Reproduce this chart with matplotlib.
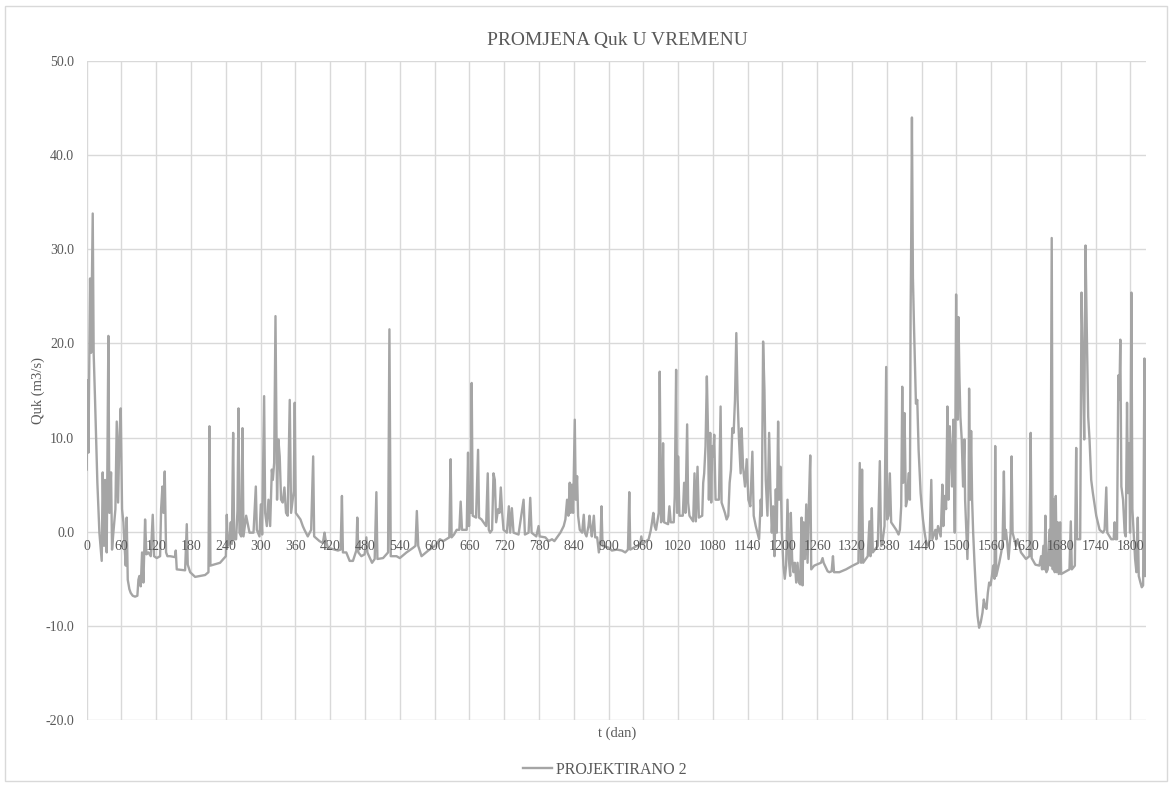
import numpy as np
import matplotlib.pyplot as plt
from matplotlib.patches import Rectangle

plt.rcParams['font.family'] = ['Liberation Serif', 'DejaVu Serif']

# ===== Podaci (očitano s grafa): dan i Quk (m3/s), po segmentima =====
days_a = [0, 1.5, 3, 5.8, 7.5, 10.4, 12, 14.4, 18.4, 21.9, 25.9, 27.6, 29.9, 31.6, 34.5, 37.4, 39.1, 42, 43.7, 46,
          49.5, 51.8, 54.1, 56.4, 58.7, 61, 63.3, 65, 67.3, 69, 70.8, 73.6, 75.9, 79.4, 83.4, 87.4, 89.2, 90.9, 93.2,
          95.5, 97.8, 100.7, 103, 106.4, 110.5, 113.9, 116.2, 120.8, 126.6, 128.3, 130.6, 132.3, 134.6, 136.9, 139.2,
          143.8, 152.5, 153.6, 155.3, 169.7, 172.6, 174.3, 178.4, 187, 204.2, 210, 211.7, 213.4, 230, 240, 241.6,
          243.3, 246.2, 248.5, 250.3, 252.6, 254.3, 257.7, 260, 261.8, 263.5, 266.4, 268.7, 270.4, 275, 277.3, 280.8,
          287.7, 291.7, 293.4, 298, 300.3, 302.6, 306, 307.8, 310.7, 313.5, 316.4, 319.3, 321, 323.3, 325.6, 328.3,
          330.6]
q_a = [6.6, 16.1, 8.4, 26.9, 19.0, 33.8, 19.0, 14.0, 5.2, -0.1, -3.1, 6.3, -1.5, 5.5, -2.2, 20.8, 2.0, 6.3, -1.9, -0.1,
       2.4, 11.7, 3.1, 10.1, 13.1, 2.4, 1.0, -1.2, -3.6, 1.5, -5.1, -6.1, -6.5, -6.8, -6.9, -6.8, -5.1, -4.7, -5.8,
       -2.2, -5.4, 1.3, -2.4, -2.2, -2.6, 1.8, -2.6, -2.8, -2.6, 2.4, 4.8, 2.0, 6.4, -2.2, -2.6,
       -2.6, -2.7, -2.0, -4.0, -4.1, 0.8, -3.5, -4.3, -4.8, -4.6, -4.3, 11.2, -3.6, -3.3, -2.6, 1.8,
       -1.5, -0.8, 1.0, -1.3, 10.5, -0.8, -0.8, 2.2, 13.1, -0.1, -0.5, 11.0, -0.5, 1.7, 1.0, -0.1,
       -0.1, 4.8, 0.2, -0.5, 2.9, -0.3, 14.4, 2.0, 0.6, 3.4, 0.6, 6.6, 5.5, 7.3, 22.9, 3.4,
       9.8]

days_b = [332.9, 335.2, 338.1, 341, 343.8, 346.7, 350.2, 352.5, 355.4, 357.1, 358.8, 360.6, 364, 368.7, 372.7, 375.6,
          381.3, 387.1, 390.6, 392.3, 401.5, 407.3, 410.2, 411.9, 416, 427.5, 433.3, 437.9, 440.2, 441.9, 447.7,
          453.5, 459.2, 465, 466.7, 468.5, 473.7, 479.4, 482.3, 484.1, 492.1, 496.7, 499.6, 501.4, 511.2, 519.8,
          522.1, 524.4, 534.3, 540, 551.6, 563.1, 567.1, 569.4, 571.8, 577.5, 589.1, 600.6]
q_b = [8.0, 3.4, 3.1, 4.7, 2.0, 1.7, 14.0, 2.0, 3.4, 4.3, 13.7, 2.0, 1.7, 1.3, 0.6, 0.2,
       -0.5, 0.2, 8.0, -0.5, -1.0, -1.2, -0.1, -0.8, -1.7, -1.9, -2.0, -1.9, 3.8, -2.2, -2.2,
       -3.1, -3.1, -2.0, 1.5, -2.2, -2.6, -2.4, -0.6, -2.2, -3.3, -2.9, 4.2, -2.9, -2.8, -2.2,
       21.5, -2.6, -2.6, -2.8, -2.2, -1.7, -1.5, 2.2, -1.5, -2.6, -2.0, -1.5]

days_c = [609.2, 615, 625.4, 627.7, 629.4, 633.5, 638.1, 642.7, 645, 647.3, 655.4, 657.7, 659.4, 661.2, 662.3, 664,
          665.8, 671.5, 675, 676.7, 681, 688.9, 691.7, 693.5, 695.8, 699.2, 701.6, 703.9, 706.2, 709.6, 711.9, 714.2,
          716.6, 718.9, 724.7, 728.1, 730.4, 733.3, 736.2, 744.8, 750.6, 753.5, 755.8, 762.1, 765, 767.3, 775.4,
          779.4, 781.2, 791, 796.8, 802.5, 806.6, 811.2, 817, 822.7, 825.6, 828.5, 830.8, 833.1, 834.8, 836.6, 838.9,
          841.8, 843.5, 845.8, 847.5, 850.4, 854.5, 857.3, 859.1, 862, 865.4, 867.2, 868.9, 871.2, 874.7, 877,
          880.4, 883.3, 886.2, 887.9, 889.7, 900.6]
q_c = [-0.8, -1.0, -0.6, 7.7, -0.6, -0.3, 0.2, 0.2, 3.2, 0.2, 0.2, 8.4, 0.6, 4.8, 2.0, 15.8,
       1.7, 1.5, 8.7, 1.5, 1.3, 0.6, 6.2, 0.2, -0.1, 0.2, 6.2, 5.5, 1.0, 2.4, 2.0, 4.7,
       2.0, 0.2, -0.1, 2.7, -0.1, 2.5, -0.1, -0.3, 2.2, 3.4, -0.3, -0.1, 3.6, -0.1, -0.5,
       0.6, -0.5, -0.6, -1.0, -0.8, -1.0, -0.6, -0.1, 0.6, 1.3, 3.4, 1.7, 5.2, 2.0, 5.0, 2.0,
       11.9, 3.4, 5.9, 1.7, 0.2, -0.1, 1.8, -0.1, -0.5, 0.6, 1.7, 0.6, -0.5, 1.7, -0.6,
       -0.6, -2.2, -0.8, 2.7, -1.5, -1.7]

days_d = [905.8, 914.4, 923.1, 928.9, 933.5, 935.8, 937.5, 949, 954.8, 956.5, 958.9, 969.2, 972.7, 975, 977.3, 979.6,
          981.9, 984.8, 986.6, 988.3, 990.6, 992.3, 994.1, 995.8, 1002.7, 1005, 1007.3, 1012.5, 1014.2, 1016.6,
          1018.3, 1020, 1022.3, 1028.1, 1030.4, 1032.7, 1035.6, 1037.3, 1039.6, 1046, 1048.3, 1050.6, 1053.5,
          1055.8, 1061.6, 1063.3, 1065, 1067.3, 1069.6, 1071.4, 1073.1, 1075.4, 1077.1, 1078.9, 1080.6, 1082.3,
          1084.6, 1090.4, 1093.3, 1095, 1100.8, 1103.7, 1106.6, 1108.9, 1111.2, 1113.5, 1115.8, 1118.1, 1120.4,
          1122.7, 1125, 1127.9, 1129.6, 1132, 1135.4, 1138.3, 1141.2, 1144.6, 1148.1, 1150.4, 1153.9, 1159.7,
          1162.5, 1164.3, 1166.6, 1168.9, 1171.2, 1174.1, 1177, 1179.3, 1181.6, 1183.9, 1186.2, 1188.5, 1190.2,
          1192.5, 1194.3, 1196.6, 1198.9]
q_d = [-2.0, -1.9, -2.0, -2.2, -1.9, 4.2, -1.9, -1.5, -1.3, -0.5, -1.3, -0.8, 0.1, 1.0, 2.0, 0.6,
       0.2, 1.3, 2.0, 17.0, 1.0, 1.3, 9.4, 1.0, 0.8, 2.7, 1.0, 1.0, 3.8, 17.2,
       2.0, 8.0, 1.7, 1.7, 5.2, 2.0, 11.4, 3.1, 1.7, 1.1, 6.2, 1.1, 6.9,
       1.5, 1.7, 5.2, 6.2, 9.1, 16.5, 11.2, 3.4, 10.5, 3.1, 9.1, 8.0, 10.3,
       3.4, 3.4, 13.3, 3.1, 2.0, 1.3, 1.7, 5.2, 6.6, 11.0, 10.5, 14.0, 21.1,
       14.0, 9.8, 6.2, 11.0, 6.9, 4.8, 7.7, 3.4, 2.7, 8.5, 1.7, 0.6, -0.8,
       3.4, 1.7, 20.2, 15.1, 5.5, 1.7, 10.5, 4.1, -0.1, 2.7, -2.6, 4.5, -0.1,
       11.7, 3.4, 6.9, -0.1]

days_e = [1201.7, 1204, 1206.3, 1208.7, 1211, 1213.3, 1214.4, 1216.7, 1219, 1221.3, 1223.7, 1226, 1228.3, 1230.6,
          1232.9, 1234.6, 1236.4, 1238.7, 1241, 1243.3, 1245.6, 1247.9, 1249.6, 1254.8, 1266.4, 1269.2, 1271,
          1277.9, 1280.8, 1284.8, 1287.1, 1288.9, 1298.1, 1309.6, 1321.2, 1331, 1333.3, 1335.6, 1337.3, 1339.1,
          1347.1, 1350, 1351.8, 1354.1, 1355.8, 1364.4, 1367.9, 1370.2, 1373.1, 1376, 1378.9, 1380.6, 1382.9,
          1385.2, 1387.5, 1396.2, 1400.2, 1402.5, 1404.8, 1406.6, 1408.3, 1410.6, 1412.9, 1415.2, 1417.5, 1419.8,
          1421, 1422.1, 1423.3, 1425, 1426.8, 1430.2, 1432.5, 1434.8, 1438.3, 1442.3, 1445.2, 1448.1, 1451,
          1453.8, 1456.7, 1458.5, 1463.7, 1465.4, 1468.3, 1472.9, 1475.8, 1477.5, 1479.8, 1482.2, 1484.5, 1486.2,
          1488.5, 1490.2, 1492.5, 1494.8, 1497.2, 1499.5]
q_e = [-3.6, -5.0, -3.6, 3.4, -2.9, -4.7, 2.0, -2.9, -4.3, -3.3, -5.4, -3.3, -5.4, -5.6,
       1.5, -5.7, 1.0, -2.9, 2.9, -3.3, 3.1, 8.1, -4.0, -3.6, -3.3, -2.8, -3.3,
       -4.2, -4.3, -4.2, -2.6, -4.3, -4.3, -4.0, -3.6, -3.3, 7.3, -3.3, 6.6, -3.3,
       -2.6, 1.1, -2.6, 2.5, -2.2, -1.5, 7.5, -1.5, -0.8, 0.6, 17.5, 1.3, 1.7,
       6.2, 1.0, 0.2, -0.3, 0.2, 2.7, 15.4, 5.2, 12.6, 2.7, 3.4, 6.2, 3.4,
       23.0, 31.5, 44.0, 27.0, 22.0, 13.6, 14.0, 8.7, 4.1, 1.3, -0.1, -1.2, -1.5,
       -0.8, 5.5, -0.8, 0.2, -0.8, 0.6, -0.5, 5.0, 0.6, 3.8, 2.4, 13.3, 3.4,
       11.2, 8.7, 4.8, 11.9, -0.1, 25.2]

days_f = [1500.6, 1502.3, 1503.5, 1505.2, 1506.9, 1509.2, 1511.5, 1513.8, 1515, 1517.3, 1519, 1520.8, 1521.9,
          1523.7, 1525.4, 1527.1, 1528.9, 1531.2, 1533.5, 1536.4, 1539.2, 1542.1, 1545, 1547.3, 1549.6, 1551.9,
          1554.2, 1556.5, 1558.9, 1561.2, 1563.5, 1565.8, 1566.9, 1568.7, 1573.9, 1577.3, 1579.6, 1581.9, 1583.7,
          1585.4, 1587.7, 1590, 1591.7, 1593.5, 1595.2, 1596.9, 1602.7, 1605.6, 1611.4, 1620, 1625.9, 1628.1,
          1629.8, 1636.2, 1643.1, 1646, 1647.7, 1650, 1651.8, 1653.5, 1655.2, 1657.5, 1660.4, 1662.1, 1664.4,
          1666.2, 1667.9, 1669.6, 1671.4, 1673.1, 1674.8, 1676.6, 1678.9, 1680.6, 1689.3, 1695, 1697.3, 1699.1,
          1704.3, 1706.6, 1708.3, 1713.5, 1715.8, 1718.1, 1720.4, 1722.7, 1725, 1727.3, 1729.6, 1732.5, 1735.4,
          1741.2, 1747, 1752.7, 1755.6, 1758.5, 1760.2, 1767.1, 1771.2, 1772.9, 1774.7, 1777, 1779.3, 1781,
          1782.7, 1784.5, 1787.4, 1790.2, 1792, 1794.3, 1796, 1797.8, 1799.5, 1801.8, 1803.5, 1805.8, 1808.2,
          1810.5, 1812.8, 1814.5, 1817.4, 1819.7, 1822, 1824.3, 1826]
q_f = [17.5, 11.9, 22.8, 16.5, 12.2, 9.8, 4.8, 9.8, 3.4, -0.1, -2.9, 1.7, 15.2,
       3.4, 10.7, 3.4, -0.1, -3.3, -6.1, -8.9, -10.2, -9.6, -8.6, -7.2, -8.0, -8.2,
       -6.5, -5.4, -5.7, -4.7, -3.6, -5.0, 9.1, -4.7, -3.3, -2.2, -1.2, 6.4, -0.8,
       0.2, -1.2, -2.9, -1.5, -0.1, 8.0, -0.1, -1.5, -0.8, -2.2, -2.9, -2.6, 10.5,
       -2.8, -3.5, -3.6, -2.6, -4.0, -1.5, -4.0, 1.7, -4.3, -4.0, 0.2, -3.6, 31.2,
       -4.0, 3.4, -4.3, 3.8, -4.3, 1.0, -4.5, 1.0, -4.5, -4.2, -4.0, 1.1, -4.0,
       -3.6, 8.9, -0.8, -0.8, 25.4, 18.2, 9.8, 30.4, 20.9, 12.2, 9.8, 5.5, 4.1,
       1.7, 0.2, -0.1, 0.2, 4.7, -0.1, -0.8, -0.8, 1.0, -0.8, -0.8, 16.6, 14.0,
       20.4, 4.8, 3.4, -0.1, -0.5, 13.7, 4.1, 9.4, -0.1, 25.4, 2.4, -0.1, -2.9,
       -4.3, 1.5, -4.7, -5.4, -5.9, -5.7, 18.4, -4.7]

x_ticks = list(range(0, 1801, 60))
y_ticks = [-20, -10, 0, 10, 20, 30, 40, 50]

dani = np.array(days_a + days_b + days_c + days_d + days_e + days_f)
quk = np.array(q_a + q_b + q_c + q_d + q_e + q_f)

# ===== Crtanje =====
TXT = '#595959'
GRID = '#D9D9D9'

fig = plt.figure(figsize=(11.73, 7.87), dpi=100)
ax = fig.add_axes([86.7 / 1173, 1 - 720 / 787, (1146 - 86.7) / 1173, (720 - 61) / 787])

# mreža ispod linije, oznake osi iznad linije (kao u Excelu)
for xv in x_ticks:
    ax.axvline(xv, color=GRID, linewidth=1.0, zorder=0.5)
for yv in y_ticks:
    ax.axhline(yv, color=GRID, linewidth=1.0, zorder=0.5)

ax.plot(dani, quk, color='#A5A5A5', linewidth=1.7, solid_joinstyle='round', label='PROJEKTIRANO 2', zorder=2)
ax.set_axisbelow(False)

ax.set_xlim(0, 1827)
ax.set_ylim(-20, 50)
ax.set_xticks(x_ticks)
ax.set_yticks(y_ticks)
ax.set_yticklabels([f'{v:.1f}' for v in y_ticks])

for s in ['top', 'right', 'left']:
    ax.spines[s].set_visible(False)
ax.spines['bottom'].set_position(('data', 0))
ax.spines['bottom'].set_visible(False)

ax.tick_params(axis='both', length=0, colors=TXT, labelsize=10)
ax.tick_params(axis='x', pad=6)
ax.tick_params(axis='y', pad=9)

fig.text(617 / 1173, 1 - 40 / 787, 'PROMJENA Quk U VREMENU', ha='center', va='center', fontsize=14, color=TXT)
fig.text(617 / 1173, 1 - 733 / 787, 't (dan)', ha='center', va='center', fontsize=10.5, color=TXT)
fig.text(38 / 1173, 1 - 390 / 787, 'Quk (m3/s)', ha='center', va='center', rotation=90, fontsize=10.5, color=TXT)

fig.legend(loc='center', bbox_to_anchor=(605 / 1173, 1 - 770 / 787), frameon=False, fontsize=11.5,
           handlelength=1.8, handletextpad=0.25, labelcolor=TXT)

fig.patches.append(Rectangle((5 / 1173, 6 / 787), 1162 / 1173, 775 / 787, transform=fig.transFigure,
                             fill=False, edgecolor=GRID, linewidth=1.0))

fig.savefig('out.png', dpi=100)
